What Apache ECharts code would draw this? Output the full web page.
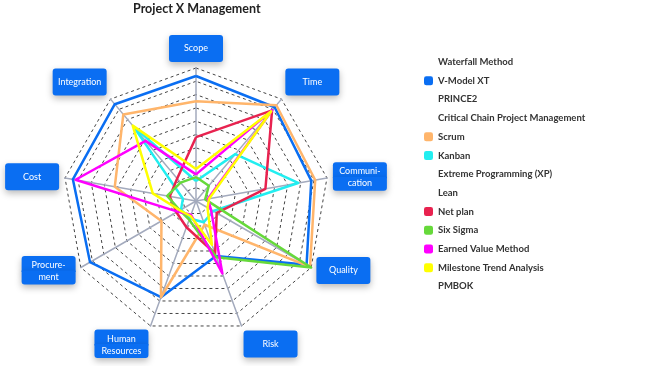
<!DOCTYPE html>
<html><head><meta charset="utf-8">
<script src="https://cdn.jsdelivr.net/npm/echarts@6/dist/echarts.min.js"></script>
<style>html,body{margin:0;padding:0;background:#fff}#c{width:650px;height:366px}</style>
</head><body><div id="c"></div>
<script>
const titleText = 'Project X Management';
// indicator order as ECharts lays them out (counter-clockwise from the top)
const categories = ['Scope','Integration','Cost','Procurement','Human Resources','Risk','Quality','Communication','Time'];
const categoryLabels = ['Scope','Integration','Cost','Procure-\nment','Human\nResources','Risk','Quality','Communi-\ncation','Time'];
const maxValue = 10;

const seriesNames = ['Waterfall Method','V-Model XT','PRINCE2','Critical Chain Project Management','Scrum','Kanban','Extreme Programming (XP)','Lean','Net plan','Six Sigma','Earned Value Method','Milestone Trend Analysis','PMBOK'];

const waterfallMethod = [];
const vModelXT = [9.4, 9.5, 9.4, 9.2, 7.7, 4.4, 9.6, 8.8, 9.2];
const prince2 = [];
const criticalChain = [];
const scrum = [7.5, 8.5, 6.2, 3.0, 7.7, 1.9, 9.9, 9.1, 9.4];
const kanban = [1.5, 7.3, 1.0, 1.3, 1.4, 1.7, 1.5, 7.8, 4.6];
const extremeProgramming = [];
const lean = [];
const netPlan = [4.8, 2.2, 2.0, 1.7, 2.1, 4.2, 1.8, 5.3, 8.9];
const sixSigma = [1.8, 1.8, 2.2, 1.4, 1.5, 4.5, 10.0, 0.7, 1.5];
const earnedValue = [2.0, 5.9, 9.2, 1.6, 1.1, 5.8, 1.3, 0.9, 8.9];
const milestoneTrend = [2.4, 7.4, 3.3, 1.4, 1.2, 3.5, 1.0, 1.0, 8.8];
const pmbok = [];

const seriesValues = [waterfallMethod, vModelXT, prince2, criticalChain, scrum, kanban, extremeProgramming, lean, netPlan, sixSigma, earnedValue, milestoneTrend, pmbok];
const seriesColors = ['rgba(0,0,0,0)','#0a6ef2','rgba(0,0,0,0)','rgba(0,0,0,0)','#ffb56b','#22eef0','rgba(0,0,0,0)','rgba(0,0,0,0)','#e8224f','#66d93a','#ff00ff','#ffff00','rgba(0,0,0,0)'];

const FONT = 'Lato';
const BOX = '#0a6ef2';
const shadow = {shadowColor: 'rgba(0,0,0,0.28)', shadowBlur: 7, shadowOffsetY: 3};
const txt = {color: '#fff', fontFamily: FONT, fontSize: 9, width: 54, align: 'center'};

function boxLabel(n) {
  const lbl = categoryLabels[categories.indexOf(n)];
  const parts = lbl.split('\n');
  let body;
  if (parts.length > 1) body = '{t|' + parts[0] + '}\n{u|' + parts[1] + '}';
  else body = '{a|' + lbl + '}';
  // labels on the upper slanted axes sit above their anchor, lower slanted axes below
  if (n === 'Time' || n === 'Integration') return body + '\n{s|}';
  if (n === 'Risk' || n === 'Human Resources') return '{s|}\n' + body;
  return body;
}

const chart = echarts.init(document.getElementById('c'), null, {renderer: 'canvas'});
chart.setOption({
  animation: false,
  title: {
    text: titleText, left: 128, top: -3,
    textStyle: {fontFamily: FONT, fontSize: 12.5, fontWeight: 'bold', color: '#222'}
  },
  legend: {
    orient: 'vertical', left: 419, top: 52,
    icon: 'roundRect', itemWidth: 9, itemHeight: 9, itemGap: 8.7,
    textStyle: {fontFamily: FONT, fontSize: 9.5, fontWeight: 'bold', color: '#333'},
    data: seriesNames
  },
  radar: {
    center: [196, 201], radius: 133,
    startAngle: 90, splitNumber: 10, shape: 'polygon',
    nameGap: 6,
    indicator: categories.map((c) => ({name: c, max: maxValue, min: 0})),
    axisName: {
      formatter: boxLabel,
      rich: {
        a: Object.assign({}, txt, shadow, {height: 27, lineHeight: 27, backgroundColor: BOX, borderRadius: 3}),
        t: Object.assign({}, txt, shadow, {height: 14, lineHeight: 14, backgroundColor: BOX, borderRadius: [3, 3, 0, 0], padding: [2, 0, 0, 0]}),
        u: Object.assign({}, txt, shadow, {height: 13, lineHeight: 13, backgroundColor: BOX, borderRadius: [0, 0, 3, 3], padding: [0, 0, 1, 0]}),
        s: {height: 25, lineHeight: 25, width: 54}
      }
    },
    axisLine: {lineStyle: {color: '#a3aabd', width: 1.5}},
    splitLine: {lineStyle: {color: '#444', type: [3, 3], width: 1}},
    splitArea: {show: false}
  },
  series: seriesNames.map((name, i) => ({
    type: 'radar', name: name,
    symbol: 'none',
    color: seriesColors[i],
    lineStyle: {width: 2.5, color: seriesColors[i]},
    data: seriesValues[i].length ? [{name: name, value: seriesValues[i]}] : []
  }))
});
</script></body></html>
